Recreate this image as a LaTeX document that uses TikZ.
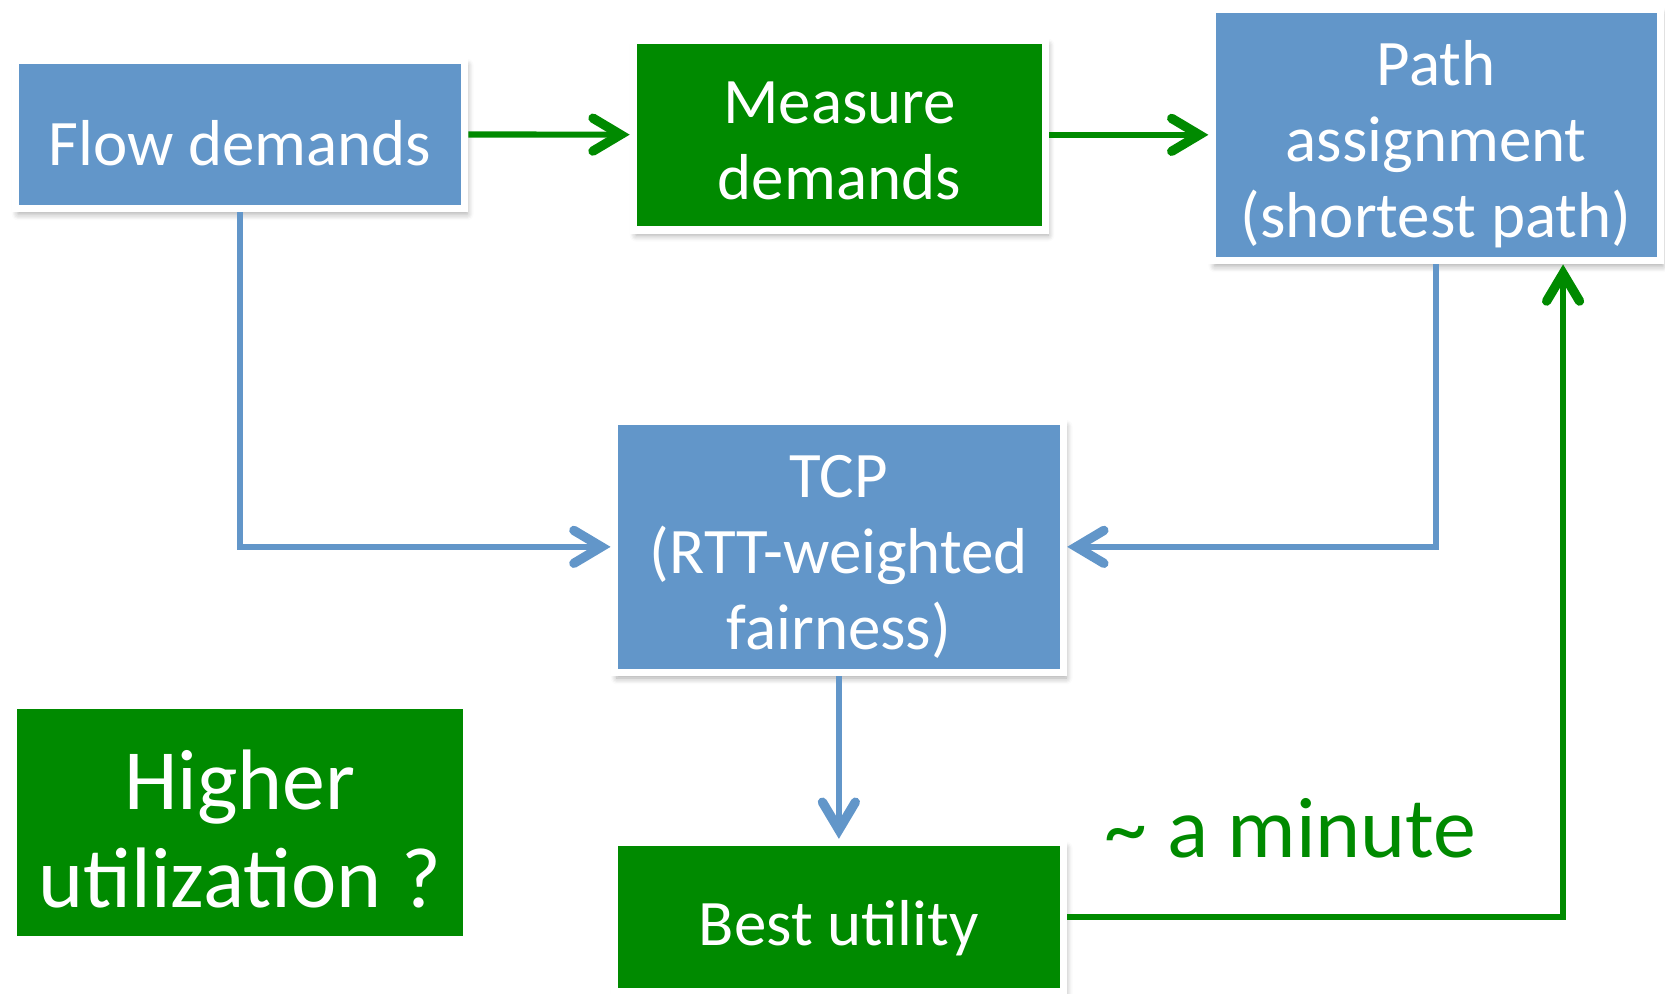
\documentclass[tikz,border=0pt]{standalone}
\usepackage{fontspec}
\setmainfont{Carlito}
\usepackage{tikz}
\usetikzlibrary{arrows.meta, shadows.blur}
\definecolor{boxblue}{RGB}{98,150,201}
\definecolor{boxgreen}{RGB}{0,138,0}
\newcommand{\liftline}[1]{\rule{0pt}{#1}}

\begin{document}
\begin{tikzpicture}[
		framed/.style={draw=white, line width=0.07cm, text=white, align=center,
			font=\fontsize{17.4}{20.4}\selectfont,
			blur shadow={shadow xshift=0.25mm, shadow yshift=-0.5mm, shadow blur radius=0.6mm,
				shadow blur steps=6, shadow opacity=35}},
		bluebox/.style={framed, fill=boxblue},
		greenbox/.style={framed, fill=boxgreen},
		link/.style={line width=0.058cm, -{Straight Barb[length=2.6mm, width=3.1mm, line width=2.5pt, line cap=round]}},
		bluelink/.style={link, boxblue},
		greenlink/.style={link, boxgreen}
	]
			\useasboundingbox (0,0) rectangle (15.68,-9.36);
			\node[bluebox, minimum width=4.23cm, minimum height=1.40cm] (flow) at (2.26,-1.265) {\liftline{17pt}Flow demands};
			\node[greenbox, minimum width=3.88cm, minimum height=1.79cm] (measure) at (7.905,-1.27) {\liftline{14.6pt}Measure\\demands};
			\node[bluebox, minimum width=4.22cm, minimum height=2.37cm] (path) at (13.525,-1.27) {\liftline{17pt}Path\\assignment\\(shortest path)};
			\node[bluebox, minimum width=4.23cm, minimum height=2.37cm] (tcp) at (7.90,-5.15) {\liftline{16.6pt}TCP\\(RTT-weighted\\fairness)};
			\node[greenbox, minimum width=4.23cm, minimum height=1.40cm] (best) at (7.90,-8.635) {\liftline{18pt}Best utility};
			\node[fill=boxgreen, text=white, align=center, minimum width=4.20cm, minimum height=2.13cm,
				font=\fontsize{23}{26.4}\selectfont] (higher) at (2.26,-7.745) {\liftline{19.4pt}Higher\\utilization ?};
			\node[text=boxgreen, anchor=base, font=\fontsize{23}{26.4}\selectfont] (minute) at (12.155,-8.08) {\textasciitilde{} a minute};
			% connectors
			\draw[greenlink] (flow) -- (measure);
			\draw[greenlink] (measure) -- (path);
			\draw[bluelink] (flow.south) |- (tcp.west);
			\draw[bluelink] (path.south) |- (tcp.east);
			\draw[bluelink] (tcp) -- (best);
			\draw[greenlink] (best.east) -| ([xshift=1.195cm]path.south);
		\end{tikzpicture}
\end{document}
